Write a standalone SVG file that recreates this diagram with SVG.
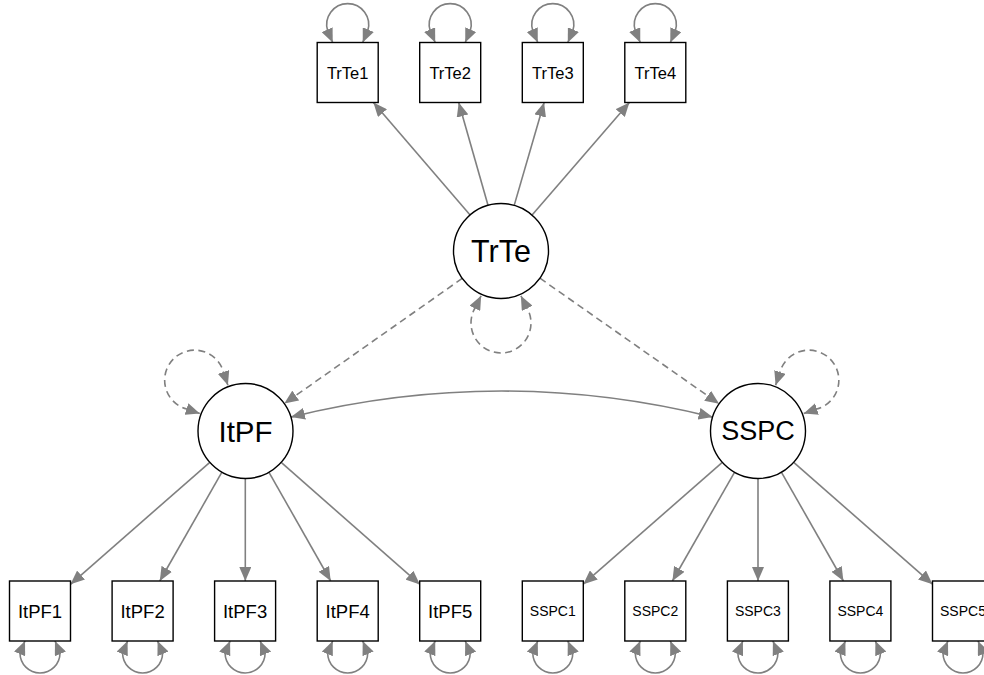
<svg xmlns="http://www.w3.org/2000/svg" width="984" height="675" viewBox="0 0 984 675">
  <defs>
    <marker id="ah" viewBox="0 0 14 12" refX="14" refY="6" markerWidth="14" markerHeight="12" markerUnits="userSpaceOnUse" orient="auto-start-reverse">
      <path d="M0,0 L14,6 L0,12 Z" fill="#808080"/>
    </marker>
  </defs>
  <style>
    .edge { fill: none; stroke: #808080; stroke-width: 1.6; }
    .dash { stroke-dasharray: 7 4.5; }
    .end { marker-end: url(#ah); }
    .both { marker-start: url(#ah); marker-end: url(#ah); }
    .lat { fill: #ffffff; stroke: #000000; stroke-width: 1.4; }
    .man { fill: #ffffff; stroke: #000000; stroke-width: 1.4; }
    text { font-family: "Liberation Sans", Arial, sans-serif; fill: #000000; text-anchor: middle; dominant-baseline: central; }
    .t-trte { font-size: 16.5px; }
    .t-itpf { font-size: 18.5px; }
    .t-sspc { font-size: 14px; }
  </style>
  <rect width="984" height="675" fill="#ffffff"/>

  <g id="connectors">
    <!-- loadings: TrTe -->
    <path class="edge end" d="M470.1,215 L373.4,102.5"/>
    <path class="edge end" d="M488,205.3 L458.7,102.5"/>
    <path class="edge end" d="M514.2,205.4 L544.1,102.5"/>
    <path class="edge end" d="M532.1,215.1 L629.4,102.5"/>
    <!-- loadings: ItPF -->
    <path class="edge end" d="M209.8,462.3 L70.5,584.3"/>
    <path class="edge end" d="M221.9,472.2 L159.8,581"/>
    <path class="edge end" d="M245.3,478.5 L245.3,581"/>
    <path class="edge end" d="M269,472.3 L330.7,581"/>
    <path class="edge end" d="M281.2,462.4 L419.9,584.4"/>
    <!-- loadings: SSPC -->
    <path class="edge end" d="M722.3,462.3 L583.3,584.2"/>
    <path class="edge end" d="M734.5,472.3 L672.4,581"/>
    <path class="edge end" d="M758,478.5 L758,581"/>
    <path class="edge end" d="M781.5,472.3 L843.4,581"/>
    <path class="edge end" d="M793.7,462.3 L932.5,584.2"/>
    <!-- regressions (dashed) -->
    <path class="edge dash end" d="M462.2,278.4 L284.3,403.6"/>
    <path class="edge dash end" d="M539.9,278.2 L719.1,403.8"/>
    <!-- covariance -->
    <path class="edge both" d="M290.9,417.1 Q501.75,365 712.6,417.1"/>
    <!-- latent variances (dashed) -->
    <path class="edge dash both" d="M481.1,295.8 L475,308 A30,30 0 1 0 527,308 L520.9,295.8"/>
    <path class="edge dash both" d="M199.8,413.4 L186.8,409.1 A30,30 0 1 1 223.6,372.3 L227.9,385.3"/>
    <path class="edge dash both" d="M803.7,413.4 L816.7,409.1 A30,30 0 1 0 779.9,372.3 L775.6,385.3"/>
    <!-- residual variances: top row -->
    <path class="edge both" d="M332.7,42.5 L327.7,31 A21,21 0 1 1 367.7,31 L362.7,42.5"/>
    <path class="edge both" d="M435.2,42.5 L430.2,31 A21,21 0 1 1 470.2,31 L465.2,42.5"/>
    <path class="edge both" d="M537.8,42.5 L532.8,31 A21,21 0 1 1 572.8,31 L567.8,42.5"/>
    <path class="edge both" d="M640.3,42.5 L635.3,31 A21,21 0 1 1 675.3,31 L670.3,42.5"/>
    <!-- residual variances: bottom row -->
    <path class="edge both" d="M25,641 L20,653 A20,20 0 1 0 60,653 L55,641"/>
    <path class="edge both" d="M127.6,641 L122.6,653 A20,20 0 1 0 162.6,653 L157.6,641"/>
    <path class="edge both" d="M230.1,641 L225.1,653 A20,20 0 1 0 265.1,653 L260.1,641"/>
    <path class="edge both" d="M332.7,641 L327.7,653 A20,20 0 1 0 367.7,653 L362.7,641"/>
    <path class="edge both" d="M435.2,641 L430.2,653 A20,20 0 1 0 470.2,653 L465.2,641"/>
    <path class="edge both" d="M537.8,641 L532.8,653 A20,20 0 1 0 572.8,653 L567.8,641"/>
    <path class="edge both" d="M640.3,641 L635.3,653 A20,20 0 1 0 675.3,653 L670.3,641"/>
    <path class="edge both" d="M742.9,641 L737.9,653 A20,20 0 1 0 777.9,653 L772.9,641"/>
    <path class="edge both" d="M845.4,641 L840.4,653 A20,20 0 1 0 880.4,653 L875.4,641"/>
    <path class="edge both" d="M948,641 L943,653 A20,20 0 1 0 983,653 L978,641"/>
  </g>

  <!-- latent variables -->
  <g id="TrTe"><circle class="lat" cx="501" cy="251" r="47.5"/><text x="501" y="251" font-size="30.5">TrTe</text></g>
  <g id="ItPF"><circle class="lat" cx="245.5" cy="431" r="47.5"/><text x="245.5" y="431" font-size="29.5">ItPF</text></g>
  <g id="SSPC"><circle class="lat" cx="758" cy="431" r="47.5"/><text x="758" y="431" font-size="27">SSPC</text></g>

  <!-- indicators: TrTe -->
  <g id="TrTe1"><rect class="man" x="317.2" y="42.5" width="61" height="60"/><text class="t-trte" x="347.7" y="72.5">TrTe1</text></g>
  <g id="TrTe2"><rect class="man" x="419.7" y="42.5" width="61" height="60"/><text class="t-trte" x="450.2" y="72.5">TrTe2</text></g>
  <g id="TrTe3"><rect class="man" x="522.3" y="42.5" width="61" height="60"/><text class="t-trte" x="552.8" y="72.5">TrTe3</text></g>
  <g id="TrTe4"><rect class="man" x="624.8" y="42.5" width="61" height="60"/><text class="t-trte" x="655.3" y="72.5">TrTe4</text></g>

  <!-- indicators: ItPF -->
  <g id="ItPF1"><rect class="man" x="9.5" y="581" width="61" height="60"/><text class="t-itpf" x="40" y="611">ItPF1</text></g>
  <g id="ItPF2"><rect class="man" x="112.1" y="581" width="61" height="60"/><text class="t-itpf" x="142.6" y="611">ItPF2</text></g>
  <g id="ItPF3"><rect class="man" x="214.6" y="581" width="61" height="60"/><text class="t-itpf" x="245.1" y="611">ItPF3</text></g>
  <g id="ItPF4"><rect class="man" x="317.2" y="581" width="61" height="60"/><text class="t-itpf" x="347.7" y="611">ItPF4</text></g>
  <g id="ItPF5"><rect class="man" x="419.7" y="581" width="61" height="60"/><text class="t-itpf" x="450.2" y="611">ItPF5</text></g>

  <!-- indicators: SSPC -->
  <g id="SSPC1"><rect class="man" x="522.3" y="581" width="61" height="60"/><text class="t-sspc" x="552.8" y="611">SSPC1</text></g>
  <g id="SSPC2"><rect class="man" x="624.8" y="581" width="61" height="60"/><text class="t-sspc" x="655.3" y="611">SSPC2</text></g>
  <g id="SSPC3"><rect class="man" x="727.4" y="581" width="61" height="60"/><text class="t-sspc" x="757.9" y="611">SSPC3</text></g>
  <g id="SSPC4"><rect class="man" x="829.9" y="581" width="61" height="60"/><text class="t-sspc" x="860.4" y="611">SSPC4</text></g>
  <g id="SSPC5"><rect class="man" x="932.5" y="581" width="61" height="60"/><text class="t-sspc" x="963" y="611">SSPC5</text></g>
</svg>
